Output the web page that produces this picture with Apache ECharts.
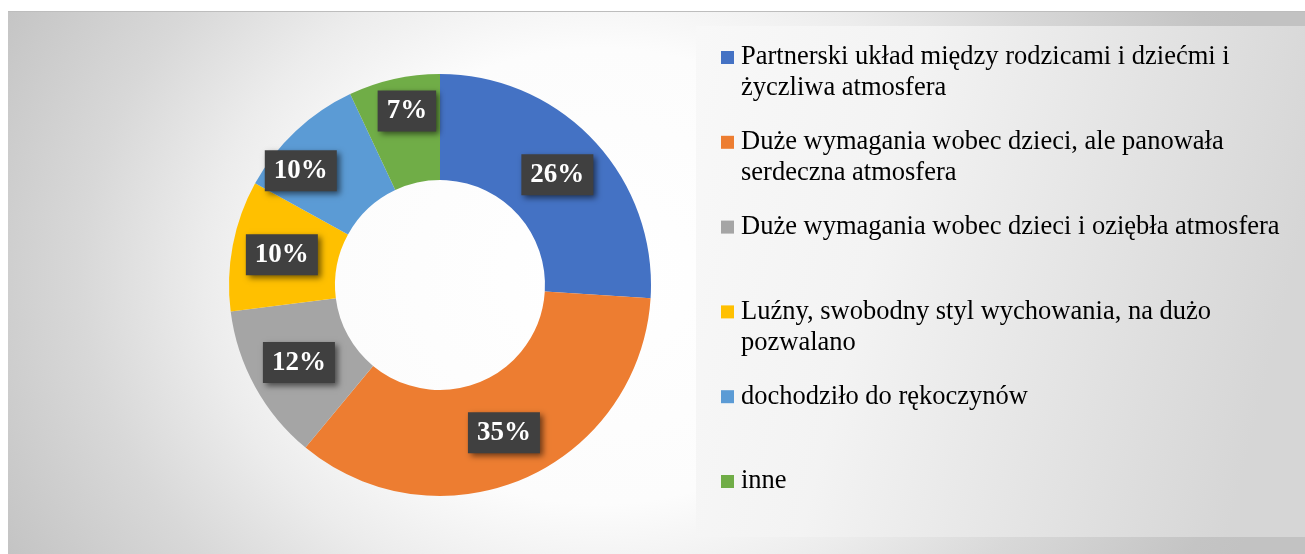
<!DOCTYPE html>
<html>
<head>
<meta charset="utf-8">
<script src="https://cdn.jsdelivr.net/npm/echarts@6/dist/echarts.min.js"></script>
<style>
  html, body { margin: 0; padding: 0; background: #fff; }
  #frame {
    position: absolute; left: 8px; top: 11px; width: 1297px; height: 543px;
    border-top: 1px solid #bdbdbd;
    box-sizing: border-box;
    background: radial-gradient(ellipse 720px 600px at 592px 264px, #ffffff 0%, #fcfcfc 38%, #ececec 55%, #d8d8d8 72%, #c4c4c4 94%, #c2c2c2 100%);
  }
  #chart { position: absolute; left: 8px; top: 11px; width: 1297px; height: 543px; }
</style>
</head>
<body>
<div id="frame"></div>
<div id="chart"></div>
<script>
// kategorie i udziały (%)
const categories = [
  'Partnerski układ między rodzicami i dziećmi i życzliwa atmosfera',
  'Duże wymagania wobec dzieci, ale panowała serdeczna atmosfera',
  'Duże wymagania wobec dzieci i oziębła atmosfera',
  'Luźny, swobodny styl wychowania, na dużo pozwalano',
  'dochodziło do rękoczynów',
  'inne'
];
const values = [26, 35, 12, 10, 10, 7];
const colors = ['#4472C4', '#ED7D31', '#A5A5A5', '#FFC000', '#5B9BD5', '#70AD47'];

const FONT = 'Liberation Serif';
const LEGEND_SIZE = 26.5;

// przesunięcia etykiet (jak w oryginale, żeby nie nachodziły na siebie)
const labelShift = { 4: [-29, 3], 5: [2, -17] };

// zawijanie tekstu legendy po szerokości
const ctx = document.createElement('canvas').getContext('2d');
ctx.font = LEGEND_SIZE + 'px "' + FONT + '"';
const wrap = (text, maxW) => {
  let words = text.split(' ')
  let lines = []
  let cur = ''
  words.forEach(w => {
    let test = cur ? cur + ' ' + w : w
    if (cur && ctx.measureText(test).width > maxW) {
      lines.push(cur)
      cur = w
    } else {
      cur = test
    }
  })
  lines.push(cur)
  return lines
}

const rich = {
  t: { fontFamily: FONT, fontSize: LEGEND_SIZE, lineHeight: 31, color: '#000' },
  sp: { width: 7 },
  ind: { width: 20 }
};
colors.forEach((c, i) => {
  rich['sq' + i] = { width: 13, height: 13, backgroundColor: c };
});

const chart = echarts.init(document.getElementById('chart'), null, { renderer: 'canvas' });

chart.setOption({
  animation: false,
  color: colors,
  graphic: [{
    type: 'rect',
    left: 688, top: 15, z: -1,
    shape: { width: 620, height: 511 },
    style: {
      fill: new echarts.graphic.LinearGradient(0, 0, 1, 0.3, [
        { offset: 0, color: '#f8f8f8' },
        { offset: 0.35, color: '#f3f3f3' },
        { offset: 1, color: '#d6d6d6' }
      ])
    },
    silent: true
  }],
  legend: {
    orient: 'vertical',
    left: 703,
    top: 26,
    itemWidth: 0,
    itemHeight: 62,
    itemGap: 22.8,
    selectedMode: false,
    itemStyle: { borderWidth: 0, opacity: 0 },
    data: categories,
    formatter: (name) => {
      let idx = categories.indexOf(name)
      let lines = wrap(name, 560)
      let res = '{sq' + idx + '|}{sp|}{t|' + lines[0] + '}'
      if (lines.length > 1) {
        res += '\n{ind|}{t|' + lines.slice(1).join(' ') + '}'
      } else {
        res += '\n{t| }'
      }
      return res
    },
    textStyle: { rich: rich }
  },
  series: [{
    type: 'pie',
    center: [432, 274],
    radius: [105, 211],
    startAngle: 90,
    clockwise: true,
    itemStyle: { borderWidth: 0 },
    emphasis: { disabled: true },
    labelLine: { show: false },
    label: {
      show: true,
      position: 'inside',
      formatter: '{c}%',
      fontFamily: FONT,
      fontSize: 27,
      fontWeight: 'bold',
      color: '#fff',
      lineHeight: 29,
      backgroundColor: '#404040',
      padding: [6, 9],
      shadowColor: 'rgba(0,0,0,0.55)',
      shadowBlur: 6,
      shadowOffsetX: 3,
      shadowOffsetY: 3
    },
    data: categories.map((name, i) => {
      let item = { name: name, value: values[i] }
      if (labelShift[i]) item.label = { offset: labelShift[i] }
      return item
    })
  }]
});
</script>
</body>
</html>
